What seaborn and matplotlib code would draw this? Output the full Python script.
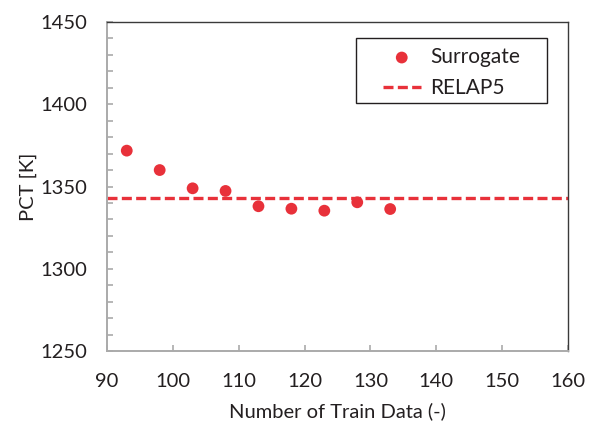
import matplotlib
matplotlib.use("Agg")
import matplotlib.pyplot as plt
from matplotlib.patches import Rectangle
import seaborn as sns
import pandas as pd

train_n = [93, 98, 103, 108, 113, 118, 123, 128, 133]
pct_surrogate = [1371.8, 1360.0, 1348.9, 1347.3, 1338.0, 1336.5, 1335.3, 1340.4, 1336.3]
pct_relap5 = 1343.0
x_ticks = [90, 100, 110, 120, 130, 140, 150, 160]
y_ticks = [1250, 1300, 1350, 1400, 1450]

sns.set_theme(style="white")
plt.rcParams['font.family'] = ['Lato', 'DejaVu Sans']

red = "#E8313A"
txt = "#231F20"
df = pd.DataFrame({"n": train_n, "pct": pct_surrogate})

W, H = 596, 424
fig = plt.figure(figsize=(W/100, H/100), dpi=100)
ax = fig.add_axes([107/W, 1-351/H, (568-107)/W, (351-22)/H])

sns.scatterplot(data=df, x="n", y="pct", ax=ax, color=red, s=72, edgecolor="none",
                label="Surrogate", zorder=3)
ax.axhline(pct_relap5, color=red, linestyle=(0, (3, 1.3)), linewidth=2.4, label="RELAP5", zorder=2)

ax.set_xlim(90, 160)
ax.set_ylim(1250, 1450)
ax.set_xticks(x_ticks)
ax.set_yticks(y_ticks)
ax.set_yticks(range(1250, 1451, 10), minor=True)
ax.tick_params(axis="both", which="both", direction="in", colors="#AAAAAA", labelcolor=txt,
               labelsize=14.5, left=True, bottom=True)
ax.tick_params(axis="both", which="major", length=4.5, width=1.2)
ax.tick_params(axis="y", which="minor", length=4.5, width=1.2)
ax.tick_params(axis="x", pad=16)
ax.tick_params(axis="y", pad=14)

for side in ["left", "bottom"]:
    ax.spines[side].set_color("#AAAAAA")
    ax.spines[side].set_linewidth(1.4)
for side in ["top", "right"]:
    ax.spines[side].set_color("#3A3A3A")
    ax.spines[side].set_linewidth(1.0)

ax.set_xlabel("Number of Train Data (-)", fontsize=14.5, color=txt, labelpad=9)
ax.set_ylabel("PCT [K]", fontsize=14.5, color=txt, labelpad=3)

# legend content (frame drawn separately to match the wide box of the reference)
leg = ax.legend(loc="upper left", bbox_to_anchor=(383/W, 1-47/H), bbox_transform=fig.transFigure,
                fontsize=15, frameon=False, borderpad=0, handlelength=1.8,
                handletextpad=0.45, labelspacing=0.55, borderaxespad=0)
for t in leg.get_texts():
    t.set_color(txt)
leg.set_zorder(6)
ax.add_patch(Rectangle((356/W, 1-103/H), (547-356)/W, (103-38)/H, transform=fig.transFigure,
                       facecolor="white", edgecolor=txt, linewidth=1.0, zorder=5, clip_on=False))

fig.savefig("out.png", dpi=100)
